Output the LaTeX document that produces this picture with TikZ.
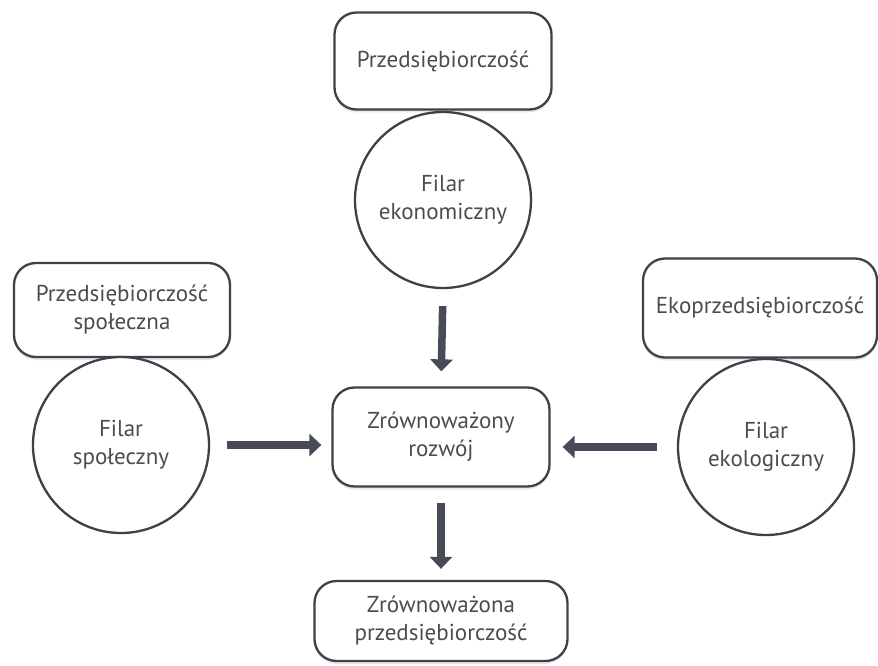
\documentclass[tikz,border=0pt]{standalone}
\usepackage{fontspec}
\setmainfont{PT Sans}
\usetikzlibrary{arrows.meta,shadows}
\definecolor{linec}{HTML}{3E4149}
\definecolor{txtc}{HTML}{4A4C52}
\definecolor{arrc}{HTML}{474B55}
\begin{document}
\begin{tikzpicture}[x=1pt,y=-1pt,
  every node/.style={text=txtc,font=\fontsize{23}{28}\selectfont,align=center,inner sep=0pt},
  rbox/.style={draw=linec,line width=2.3pt,rounded corners=22pt,fill=white,
    drop shadow={opacity=0.18,shadow xshift=0pt,shadow yshift=-3pt}},
  pillar/.style={draw=linec,line width=2.3pt,circle,fill=white,minimum size=176pt},
  flow/.style={draw=arrc,line width=7.5pt,-{Triangle[width=22pt,length=12pt]}}]
\useasboundingbox (0,0) rectangle (878,666);
\node[rbox,minimum width=217pt,minimum height=97pt] (tb) at (443,61) {Przedsiębiorczość};
\node[pillar] (ec) at (443,200) {Filar\\ekonomiczny};
\node[rbox,minimum width=216pt,minimum height=94pt] (lb) at (122,310) {Przedsiębiorczość\\społeczna};
\node[pillar] (lc) at (121,445) {Filar\\społeczny};
\node[rbox,minimum width=234pt,minimum height=99pt] (rb) at (760,308) {Ekoprzedsiębiorczość};
\node[pillar] (rc) at (766,447) {Filar\\ekologiczny};
\node[rbox,minimum width=217pt,minimum height=99pt] (cb) at (441,437) {Zrównoważony\\rozwój};
\node[rbox,minimum width=253pt,minimum height=80pt] (bb) at (441,621) {Zrównoważona\\przedsiębiorczość};
\draw[flow,shorten <=17pt,shorten >=15pt] (ec.south) -- (cb.north);
\draw[flow,shorten <=17pt,shorten >=10pt] (lc.east) -- (lc.east -| cb.west);
\draw[flow,shorten <=20pt,shorten >=12pt] (rc.west) -- (rc.west -| cb.east);
\draw[flow,shorten <=15pt,shorten >=11pt] (cb.south) -- (bb.north);
\end{tikzpicture}
\end{document}
